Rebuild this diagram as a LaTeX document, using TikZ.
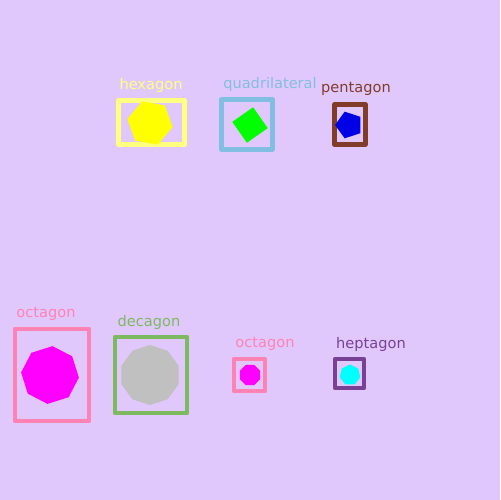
\documentclass[tikz,border=0pt]{standalone}
\usepackage{fontspec}
\setmainfont{DejaVu Sans}
\usetikzlibrary{shapes.geometric}
\definecolor{lilac}{RGB}{225,200,252}
\definecolor{lemon}{RGB}{255,255,128}
\definecolor{sky}{RGB}{130,190,225}
\definecolor{rust}{RGB}{128,60,40}
\definecolor{rose}{RGB}{255,130,180}
\definecolor{moss}{RGB}{125,185,95}
\definecolor{plum}{RGB}{120,65,150}
\definecolor{gold}{RGB}{255,255,0}
\definecolor{lime}{RGB}{0,255,0}
\definecolor{deepblue}{RGB}{0,0,230}
\definecolor{fuchsia}{RGB}{255,0,255}
\definecolor{silver}{RGB}{192,192,192}
\definecolor{aqua}{RGB}{0,255,255}
\tikzset{
  frame/.style={draw=#1,line width=0.085cm,line join=round,inner sep=0pt,outer sep=0pt},
  frame/.default=rose,
  poly/.style={regular polygon,fill=#1,inner sep=0pt,outer sep=0pt},
  poly/.default=silver,
  tag/.style={text=#1,font=\fontsize{8.3}{9}\selectfont,inner sep=0pt},
}
\begin{document}
\begin{tikzpicture}[x=0.02cm,y=-0.02cm]
        \fill[lilac] (0,0) rectangle (500,500);
        \useasboundingbox (0,0) rectangle (500,500);
        \foreach \n/\c/\bx/\by/\bw/\bh/\f/\k/\px/\py/\r/\rot/\lx/\ly/\t in
          {hex/lemon/151.5/122.5/66/44/gold/6/150/123/23/-10/151/85/hexagon,
           quad/sky/247/124.5/51/50/lime/4/250/125/18/35/270/84/quadrilateral,
           pent/rust/350/124.5/31/40/deepblue/5/349/125/14/90/356/89/pentagon,
           octa/rose/52/375/74/92/fuchsia/8/50/375/29/17.5/46/314/octagon,
           deca/moss/151/375/72/76/silver/10/150/375/30/18/149/322/decagon,
           octb/rose/249.5/375/31/32/fuchsia/8/250/375/11/0/265/344/octagon,
           hept/plum/349.5/373.5/29/29/aqua/7/350/375/10.5/0/371/344/heptagon}{
          \node[frame=\c,minimum width=\bw*0.02cm,minimum height=\bh*0.02cm] (box\n) at (\bx,\by) {};
          \node[poly=\f,regular polygon sides=\k,minimum size=2*\r*0.02cm,shape border rotate=\rot] (shape\n) at (\px,\py) {};
          \node[tag=\c] (label\n) at (\lx,\ly) {\t};
        }
      \end{tikzpicture}
\end{document}
